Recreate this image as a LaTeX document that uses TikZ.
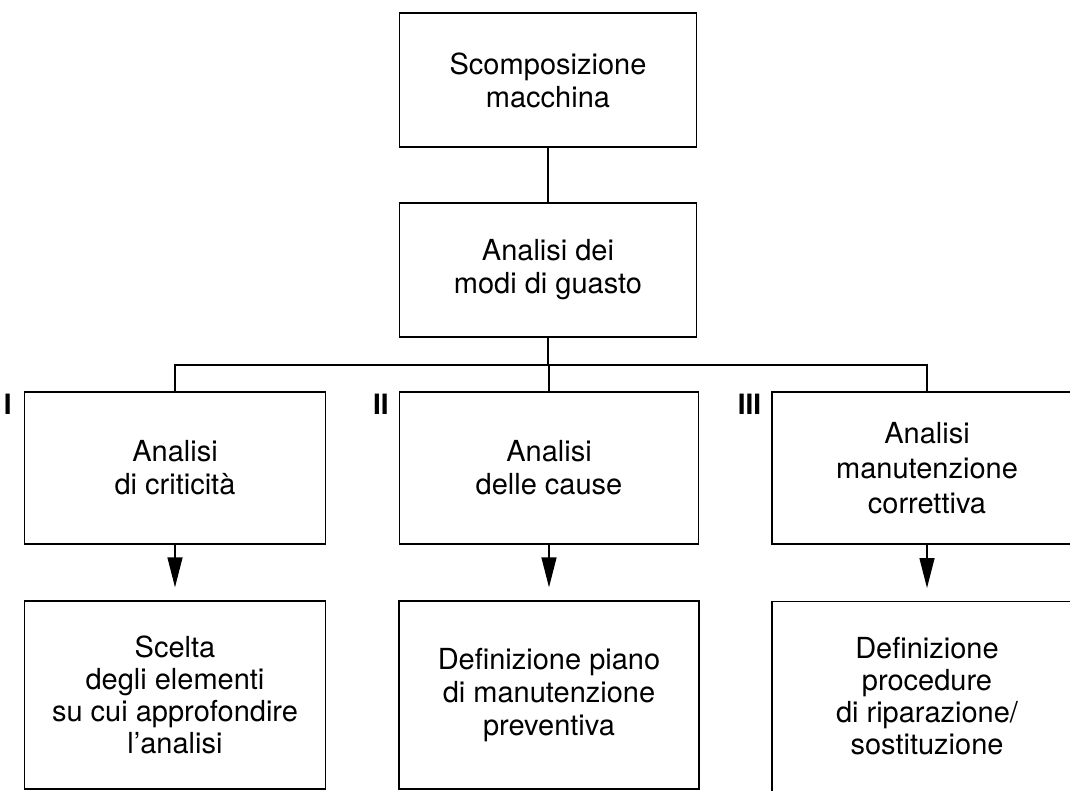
\documentclass[tikz,border=0pt]{standalone}
\usepackage{fontspec}
\setmainfont{TeX Gyre Heros}
\usetikzlibrary{arrows.meta}
\begin{document}
\begin{tikzpicture}[x=1pt,y=-1pt,
  box/.style={draw,line width=1.4pt,rectangle,inner sep=0pt,align=center,
    font=\fontsize{29}{33}\selectfont},
  txt/.style={inner sep=0pt,align=center,font=\fontsize{29}{33}\selectfont},
  num/.style={inner sep=0pt,anchor=north east,font=\fontsize{28}{30}\selectfont\bfseries},
  link/.style={line width=1.4pt},
  arr/.style={line width=1.4pt,-{Triangle[length=30pt,width=15pt]},shorten >=13pt}]
\useasboundingbox (0,0) rectangle (1070,791);
\clip (0,0) rectangle (1070,791);
\fill[white] (0,0) rectangle (1070,791);
% row 1 and 2
\node[box,minimum width=297pt,minimum height=134pt] (b1) at (548,80) {Scomposizione\\macchina};
\node[box,minimum width=297pt,minimum height=134pt] (b2) at (548,270) {Analisi dei\\modi di guasto};
% row 3
\node[box,minimum width=301pt,minimum height=152pt] (b3) at (175,468) {Analisi\\di criticità};
\node[box,minimum width=299pt,minimum height=152pt] (b4) at (549,468) {Analisi\\delle cause};
\node[box,minimum width=310pt,minimum height=152pt,font=\fontsize{29}{35}\selectfont] (b5) at (927,468) {Analisi\\manutenzione\\correttiva};
% row 4
\node[box,minimum width=301pt,minimum height=188pt,font=\fontsize{29}{32}\selectfont] (b6) at (175,695) {Scelta\\degli elementi\\su cui approfondire\\l'analisi};
\node[box,minimum width=300pt,minimum height=188pt] (b7) at (549,695) {Definizione piano\\di manutenzione\\preventiva};
\node[box,minimum width=310pt,minimum height=230pt,anchor=north] (b8) at (927,601) {};
\node[txt,font=\fontsize{29}{32}\selectfont] (t8) at (927,696) {Definizione\\procedure\\di riparazione/\\sostituzione};
% numerals
\node[num] (n1) at ([xshift=-12pt,yshift=-3pt]b3.north west) {I};
\node[num] (n2) at ([xshift=-10pt,yshift=-3pt]b4.north west) {II};
\node[num] (n3) at ([xshift=-10pt,yshift=-3pt]b5.north west) {III};
% connectors
\coordinate (bus) at (0,365);
\draw[link] (b1.south) -- (b2.north);
\draw[link] (b2.south) -- (b2.south |- bus);
\draw[link] (b3.north) -- (b3.north |- bus) -- (b5.north |- bus) -- (b5.north);
\draw[link] (b4.north) -- (b4.north |- bus);
\draw[arr] (b3.south) -- (b6.north);
\draw[arr] (b4.south) -- (b7.north);
\draw[arr] (b5.south) -- (b8.north);
\end{tikzpicture}
\end{document}
